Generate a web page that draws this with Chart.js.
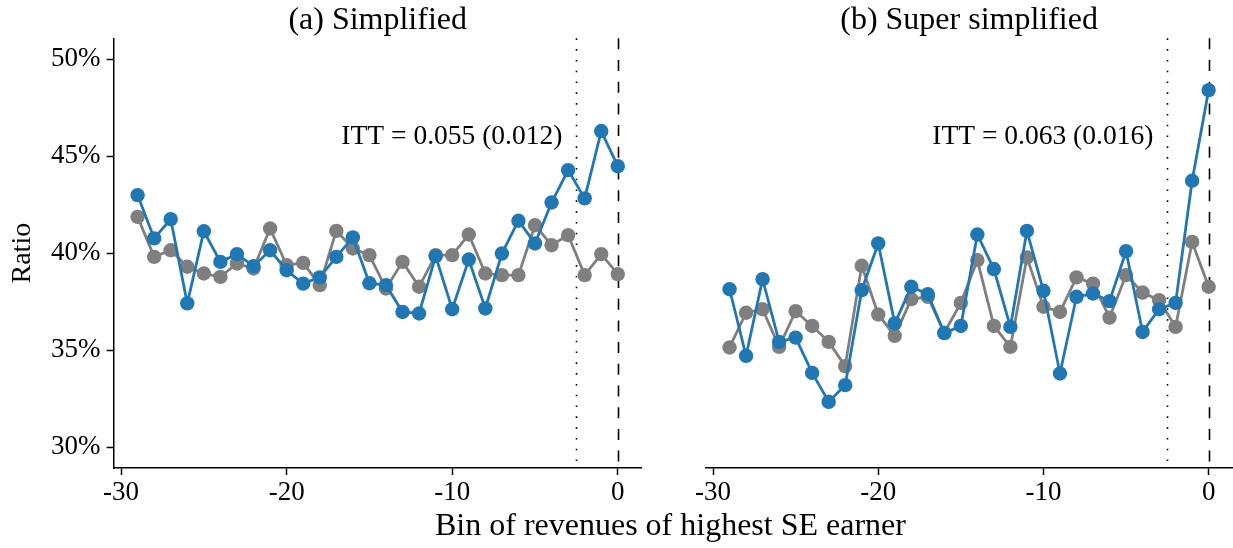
<!DOCTYPE html>
<html>
<head>
<meta charset="utf-8">
<script src="https://cdn.jsdelivr.net/npm/chart.js@4.4.1/dist/chart.umd.min.js"></script>
<style>
  body { margin: 0; background: #fff; width: 1233px; height: 548px; position: relative; overflow: hidden; }
  #left { position: absolute; left: 0; top: 0; }
  #right { position: absolute; left: 660px; top: 0; }
  #xlabel { position: absolute; left: 435px; top: 506px; font: 32px "Liberation Serif", serif; color: #000; white-space: nowrap; }
</style>
</head>
<body>
<canvas id="left" width="660" height="548"></canvas>
<canvas id="right" width="573" height="548"></canvas>
<div id="xlabel">Bin of revenues of highest SE earner</div>
<script>
// bins relative to the threshold
const bins = [-29, -28, -27, -26, -25, -24, -23, -22, -21, -20, -19, -18, -17, -16, -15,
              -14, -13, -12, -11, -10, -9, -8, -7, -6, -5, -4, -3, -2, -1, 0];

// ratios in percent
const simplifiedBlue = [42.99, 40.76, 41.75, 37.41, 41.13, 39.55, 39.95, 39.33, 40.15, 39.12, 38.43, 38.75, 39.81, 40.81, 38.45,
                        38.35, 36.97, 36.89, 39.85, 37.11, 39.67, 37.15, 39.98, 41.67, 40.50, 42.61, 44.28, 42.82, 46.29, 44.48];
const simplifiedGray = [41.87, 39.81, 40.15, 39.30, 38.95, 38.78, 39.47, 39.21, 41.27, 39.38, 39.50, 38.35, 41.15, 40.24, 39.90,
                        38.18, 39.55, 38.27, 39.90, 39.90, 40.96, 38.95, 38.87, 38.87, 41.44, 40.41, 40.93, 38.87, 39.95, 38.92];
const superBlue = [38.14, 34.71, 38.66, 35.43, 35.65, 33.83, 32.34, 33.20, 38.09, 40.50, 36.38, 38.27, 37.89, 35.88,
                   36.25, 40.96, 39.18, 36.20, 41.15, 38.06, 33.80, 37.75, 37.92, 37.53, 40.10, 35.94, 37.11, 37.44, 43.73, 48.40];
const superGray = [35.14, 36.93, 37.11, 35.17, 37.01, 36.25, 35.43, 34.18, 39.35, 36.84, 35.74, 37.63, 37.75, 35.90,
                   37.44, 39.64, 36.25, 35.17, 39.78, 37.24, 36.97, 38.75, 38.43, 36.68, 38.87, 37.97, 37.58, 36.20, 40.58, 38.27];

const xTicks = [-30, -20, -10, 0];
const yTicks = [30, 35, 40, 45, 50];
const cutoffLine = -2.5;
const thresholdLine = 0;

const BLUE = '#1f77b4';
const GRAY = '#7f7f7f';
const FONT = '"Liberation Serif", serif';

function series(values, color) {
  return {
    data: bins.map((b, i) => ({ x: b, y: values[i] })),
    borderColor: color,
    backgroundColor: color,
    pointBackgroundColor: color,
    pointBorderWidth: 0,
    pointRadius: 7.2,
    borderWidth: 2.8,
    tension: 0
  };
}

// vertical reference lines, panel title and ITT label
const decorations = {
  id: 'decorations',
  beforeDatasetsDraw(chart) {
    const { ctx, chartArea, scales } = chart;
    ctx.save();
    ctx.strokeStyle = '#000';
    ctx.lineWidth = 1.6;
    [[cutoffLine, [1.6, 9.2]], [thresholdLine, [11, 10.7]]].forEach(([v, dash]) => {
      const px = Math.round(scales.x.getPixelForValue(v)) + 0.5;
      ctx.setLineDash(dash);
      ctx.beginPath();
      ctx.moveTo(px, chartArea.top);
      ctx.lineTo(px, chartArea.bottom);
      ctx.stroke();
    });
    ctx.restore();
  },
  afterDraw(chart, args, opts) {
    const { ctx, chartArea, scales } = chart;
    ctx.save();
    ctx.fillStyle = '#000';
    ctx.textBaseline = 'alphabetic';
    ctx.font = '32px ' + FONT;
    ctx.textAlign = 'center';
    ctx.fillText(opts.title, (chartArea.left + chartArea.right) / 2, 29);
    ctx.font = '27.5px ' + FONT;
    ctx.textAlign = 'right';
    ctx.fillText(opts.itt, scales.x.getPixelForValue(-3.35), scales.y.getPixelForValue(45.6));
    ctx.restore();
  }
};

function makeChart(id, blue, gray, title, itt, showY, pad) {
  return new Chart(document.getElementById(id), {
    type: 'line',
    data: { datasets: [series(blue, BLUE), series(gray, GRAY)] },
    plugins: [decorations],
    options: {
      responsive: false,
      animation: false,
      layout: { padding: pad, autoPadding: false },
      plugins: {
        legend: { display: false },
        tooltip: { enabled: false },
        decorations: { title: title, itt: itt }
      },
      scales: {
        x: {
          type: 'linear',
          min: -30.45,
          max: 1.45,
          afterBuildTicks: s => { s.ticks = xTicks.map(v => ({ value: v })); },
          afterFit: s => { s.height = 80; },
          grid: { drawOnChartArea: false, drawTicks: true, tickLength: 7, tickColor: '#000', tickWidth: 1.5 },
          border: { display: true, color: '#000', width: 1.5 },
          ticks: { color: '#000', font: { family: FONT, size: 27 }, padding: 2, maxRotation: 0 }
        },
        y: {
          display: showY,
          min: 28.93,
          max: 51.07,
          afterBuildTicks: s => { s.ticks = yTicks.map(v => ({ value: v })); },
          afterFit: s => { s.width = showY ? 113.6 : 0; },
          grid: { drawOnChartArea: false, drawTicks: true, tickLength: 7, tickColor: '#000', tickWidth: 1.5 },
          border: { display: true, color: '#000', width: 1.5 },
          ticks: { color: '#000', font: { family: FONT, size: 27 }, padding: 6, callback: v => v + '%' },
          title: { display: true, text: 'Ratio', color: '#000', font: { family: FONT, size: 28 }, padding: 6 }
        }
      }
    }
  });
}

makeChart('left', simplifiedBlue, simplifiedGray, '(a) Simplified', 'ITT = 0.055 (0.012)', true,
  { top: 38.3, right: 18.2, left: 0, bottom: 0 });
makeChart('right', superBlue, superGray, '(b) Super simplified', 'ITT = 0.063 (0.016)', false,
  { top: 38.3, right: 0.4, left: 45.6, bottom: 0 });
</script>
</body>
</html>
